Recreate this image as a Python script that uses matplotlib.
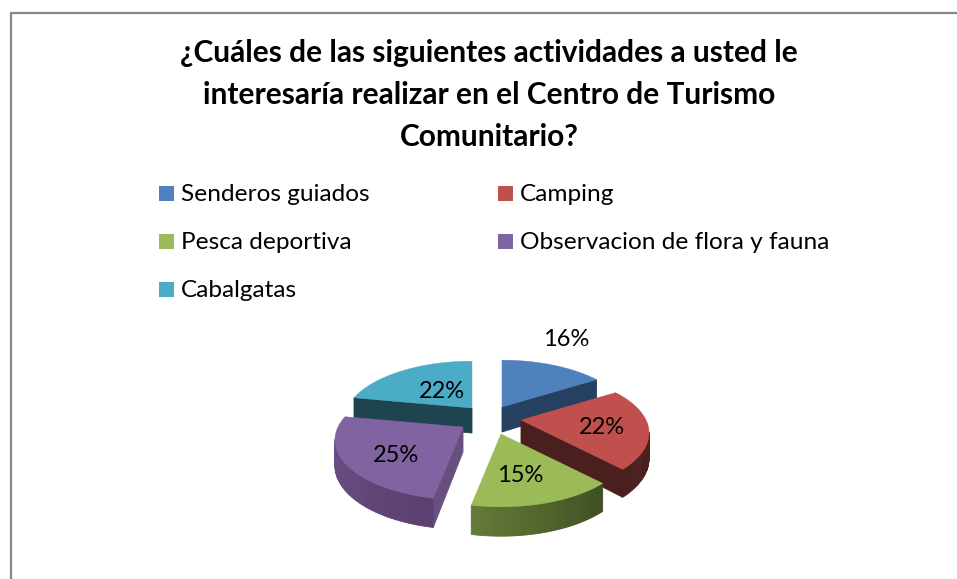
# Libraries
import numpy as np
import matplotlib
matplotlib.use('Agg')
import matplotlib.pyplot as plt

# Data
title = '¿Cuáles de las siguientes actividades a usted le\ninteresaría realizar en el Centro de Turismo\nComunitario?'
labels = ['Senderos guiados', 'Camping', 'Pesca deportiva', 'Observacion de flora y fauna', 'Cabalgatas']
values = [16, 22, 15, 25, 22]

# Colours: top, cut face, rim at start of arc, rim at end of arc
top_colors = ['#4F81BD', '#C0504D', '#9BBB59', '#8064A2', '#4BACC6']
cut_colors = ['#254061', '#4B1F1E', '#4F6228', '#67507F', '#1D444F']
rim_start = ['#254061', '#4B1F1E', '#3E4C20', '#5A3F6E', '#1D444F']
rim_end = ['#254061', '#4B1F1E', '#637A37', '#6E5490', '#1D444F']

# Layout in pixels
apex = [(502, 407), (521, 420), (501, 434), (463, 427), (472, 408)]
label_xy = [(566, 339), (602, 428), (520, 476), (396, 455), (442, 391)]
legend_xy = [(159, 194), (498, 194), (159, 242), (498, 242), (159, 290)]
draw_order = [4, 0, 3, 1, 2]
RX, RY, P = 125, 57, 0.217

plt.rcParams['font.family'] = ['Lato', 'DejaVu Sans']
fig = plt.figure(figsize = (9.57, 5.79), dpi = 100)
ax = fig.add_axes([0, 0, 1, 1])
ax.set_xlim(0, 957)
ax.set_ylim(579, 0)
ax.axis('off')

# Chart frame
ax.plot([10.5, 10.5, 957], [579, 12.5, 12.5], color = '#868686', lw = 1.6)

def project(angle, r, ap):
    u, v = r * np.sin(angle), -r * np.cos(angle)
    k = 1 - P * v
    return ap[0] + RX * u / k, ap[1] + RY * v / k

def depth(y, ap):
    return 25 + (y - ap[1]) * 0.06

def mix(c1, c2, t):
    a, b = np.array(matplotlib.colors.to_rgb(c1)), np.array(matplotlib.colors.to_rgb(c2))
    return a + (b - a) * t

# Pie slices
edges = np.cumsum([0] + values) / sum(values) * 2 * np.pi
for i in draw_order:
    ap = apex[i]
    angles = np.linspace(edges[i], edges[i + 1], 60)
    xs, ys = project(angles, 1, ap)
    # side faces, only those looking at the viewer
    path = [(ap[0], ap[1])] + list(zip(xs, ys)) + [(ap[0], ap[1])]
    for j in range(len(path) - 1):
        (x0, y0), (x1, y1) = path[j], path[j + 1]
        if x1 - x0 >= 0:
            continue
        if j == 0 or j == len(path) - 2:
            col = cut_colors[i]
        else:
            col = mix(rim_start[i], rim_end[i], j / (len(path) - 2))
        ax.fill([x0, x1, x1, x0], [y0, y1, y1 + depth(y1, ap), y0 + depth(y0, ap)],
                color = col, lw = 0.6, zorder = 2 + draw_order.index(i))
    ax.fill([p[0] for p in path], [p[1] for p in path], color = top_colors[i], lw = 0.3,
            zorder = 2.5 + draw_order.index(i))

# Data labels
for v, (x, y) in zip(values, label_xy):
    ax.text(x, y, '%d%%' % v, fontsize = 17, ha = 'center', va = 'center', color = 'black', zorder = 20)

# Legend
for lab, col, (x, y) in zip(labels, top_colors, legend_xy):
    ax.fill([x, x + 15, x + 15, x], [y - 8, y - 8, y + 7, y + 7], color = col, lw = 0)
    ax.text(x + 22, y + 0.5, lab, fontsize = 17.6, ha = 'left', va = 'center', color = 'black')

# Title
ax.text(489, 95, title, fontsize = 21.5, fontweight = 'bold', ha = 'center', va = 'center',
        linespacing = 1.6, color = 'black')

fig.savefig('out.png', dpi = 100)
